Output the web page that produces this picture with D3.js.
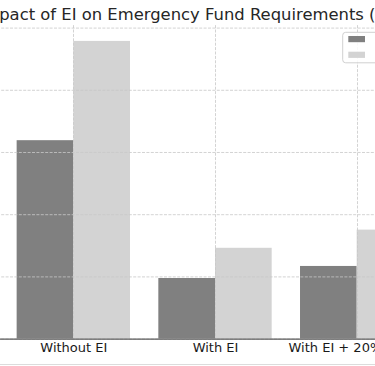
<!DOCTYPE html>
<html>
<head>
<meta charset="utf-8">
<script src="https://cdn.jsdelivr.net/npm/d3@7"></script>
<style>
  html, body { margin: 0; padding: 0; background: #ffffff; }
  svg { display: block; }
</style>
</head>
<body>
<div id="chart"></div>
<script>
const categories = ["Without EI", "With EI", "With EI + 20% Buffer"];
const seriesNames = ["Lower estimate", "Upper estimate"];
const lowerValues = [15950, 4870, 5840];
const upperValues = [23930, 7300, 8760];
const yTicks = [0, 5000, 10000, 15000, 20000, 25000];
const titleText = "Impact of EI on Emergency Fund Requirements (in CAD $)";

const W = 375, H = 366;
const colors = ["#808080", "#d3d3d3"];

const svg = d3.select("#chart").append("svg")
  .attr("width", W).attr("height", H)
  .style("font-family", "'DejaVu Sans', sans-serif");

svg.append("rect").attr("width", W).attr("height", H).attr("fill", "#ffffff");

const x = d3.scaleLinear().domain([-0.54, 2.54]).range([-3.2, 433.2]);
const y = d3.scaleLinear().domain([0, 25200]).range([338.6, 25.1]);
const barW = 0.4;

const plot = svg.append("g");

// bars
const series = [lowerValues, upperValues];
series.forEach((vals, s) => {
  plot.selectAll(null).data(vals).enter().append("rect")
    .attr("x", (d, i) => x(i + (s === 0 ? -barW : 0)))
    .attr("width", x(barW) - x(0))
    .attr("y", d => y(d))
    .attr("height", d => y(0) - y(d))
    .attr("fill", colors[s]);
});

// grid (drawn above bars, like matplotlib default)
const grid = svg.append("g")
  .attr("stroke", "#c8c8c8").attr("stroke-width", 0.8)
  .attr("stroke-dasharray", "3,1.4");
grid.selectAll(null).data(yTicks).enter().append("line")
  .attr("x1", x(-0.54)).attr("x2", x(2.54))
  .attr("y1", d => y(d) + 0.5).attr("y2", d => y(d) + 0.5);
grid.selectAll(null).data(d3.range(categories.length)).enter().append("line")
  .attr("x1", d => Math.round(x(d)) + 0.5).attr("x2", d => Math.round(x(d)) + 0.5)
  .attr("y1", y(25200)).attr("y2", y(0));

// x axis
const xAxis = d3.axisBottom(x)
  .tickValues(d3.range(categories.length))
  .tickFormat(i => categories[i])
  .tickSize(0).tickPadding(0);
const gx = svg.append("g").attr("transform", `translate(0,${y(0)})`).call(xAxis);
gx.select(".domain").attr("stroke", "#5a5a5a").attr("stroke-width", 1.1);
gx.selectAll("text")
  .attr("dy", null).attr("y", 13.8)
  .attr("fill", "#1a1a1a")
  .style("font-size", "13px")
  .style("font-family", "'DejaVu Sans', sans-serif");

// title
svg.append("text")
  .attr("x", x(-0.54) - 18.4)
  .attr("y", 19.5)
  .attr("text-anchor", "start")
  .attr("fill", "#262626")
  .style("font-size", "16.4px")
  .text(titleText);

// legend
const lg = svg.append("g");
lg.append("rect")
  .attr("x", 342.7).attr("y", 32.3).attr("width", 130).attr("height", 30.5)
  .attr("rx", 3).attr("fill", "#ffffff").attr("fill-opacity", 0.85)
  .attr("stroke", "#d0d0d0").attr("stroke-width", 1);
seriesNames.forEach((name, s) => {
  lg.append("rect")
    .attr("x", 348.3).attr("y", 36 + s * 15.7)
    .attr("width", 16.7).attr("height", 6.2)
    .attr("fill", colors[s]);
  lg.append("text")
    .attr("x", 378).attr("y", 42 + s * 15.7)
    .style("font-size", "11px").attr("fill", "#262626")
    .text(name);
});

// bottom edge line
svg.append("line")
  .attr("x1", 0).attr("x2", W).attr("y1", 364.5).attr("y2", 364.5)
  .attr("stroke", "#dcdcdc").attr("stroke-width", 1);
</script>
</body>
</html>
